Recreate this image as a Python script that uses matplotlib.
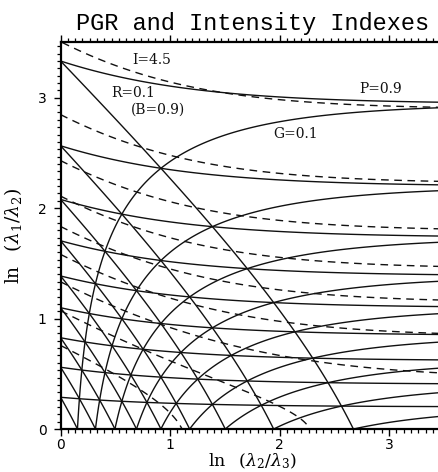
import matplotlib
matplotlib.use("Agg")
import matplotlib.pyplot as plt
import numpy as np
from matplotlib.ticker import MultipleLocator

plt.rcParams["mathtext.fontset"] = "dejavuserif"

# contour levels (solid = P, G, R indexes; dashed = intensity I)
pgr_levels = [0.1, 0.2, 0.3, 0.4, 0.5, 0.6, 0.7, 0.8, 0.9]
intensity_levels = [0.5, 1.0, 1.5, 2.0, 2.5, 3.0, 3.5, 4.0, 4.5]
intensity_scale = 1.15  # log-ratio scaling used by the dashed curves in the original

x_ticks = [0, 1, 2, 3]
y_ticks = [0, 1, 2, 3]
labels = ["I=4.5", "R=0.1", "(B=0.9)", "P=0.9", "G=0.1"]


def eigen_from_ratios(x, y):
    u = np.exp(x)
    w = np.exp(x + y)
    l3 = 1.0 / (1.0 + u + w)
    return w * l3, u * l3, l3


gx = np.linspace(0, 3.5, 900)
gy = np.linspace(0, 3.5, 900)
X, Y = np.meshgrid(gx, gy)

l1, l2, l3 = eigen_from_ratios(X, Y)
P = l1 - l2
G = 2 * (l2 - l3)
R = 3 * l3

s1, s2, s3 = eigen_from_ratios(intensity_scale * X, intensity_scale * Y)
I = 7.5 * ((s1 - 1 / 3) ** 2 + (s2 - 1 / 3) ** 2 + (s3 - 1 / 3) ** 2)

fig = plt.figure(figsize=(4.39, 4.72), dpi=100)
ax = fig.add_axes([0.138, 0.091, 0.873, 0.819])

for field in (P, G, R):
    ax.contour(X, Y, field, levels=pgr_levels, colors="#111111", linewidths=1.0)
ax.contour(X, Y, I, levels=intensity_levels, colors="#111111", linewidths=1.0,
           linestyles=[(0, (5.5, 4.0))])

ax.set_xlim(0, 3.5)
ax.set_ylim(0, 3.5)

lab_font = dict(family="DejaVu Serif", fontsize=10, color="#111111")
ax.text(0.83, 3.34, labels[0], ha="center", va="center", **lab_font)
ax.text(0.66, 3.04, labels[1], ha="center", va="center", **lab_font)
ax.text(0.89, 2.89, labels[2], ha="center", va="center", **lab_font)
ax.text(2.92, 3.08, labels[3], ha="center", va="center", **lab_font)
ax.text(2.15, 2.67, labels[4], ha="center", va="center", **lab_font)

ax.set_title("PGR and Intensity Indexes", family="Liberation Mono", fontsize=17, pad=9)
ax.set_xlabel(r"ln  $\,(\lambda_2/\lambda_3)$", family="DejaVu Serif", fontsize=12.5,
              va="bottom")
ax.xaxis.set_label_coords(0.5, -0.109)
ax.set_ylabel(r"ln  $\,(\lambda_1/\lambda_2)$", family="DejaVu Serif", fontsize=13.5, labelpad=10)

ax.spines["right"].set_visible(False)
for s in ("left", "top", "bottom"):
    ax.spines[s].set_linewidth(1.6)

ax.set_xticks(x_ticks)
ax.set_yticks(y_ticks)
ax.xaxis.set_minor_locator(MultipleLocator(1 / 15))
ax.yaxis.set_minor_locator(MultipleLocator(1 / 15))
ax.tick_params(which="major", direction="out", length=5, width=1.0, labelsize=10,
               top=True, right=False, pad=1.5)
ax.tick_params(which="minor", direction="out", length=3, width=0.9, top=True, right=False)
ax.tick_params(axis="y", which="major", pad=5)

fig.savefig("out.png", dpi=100)
